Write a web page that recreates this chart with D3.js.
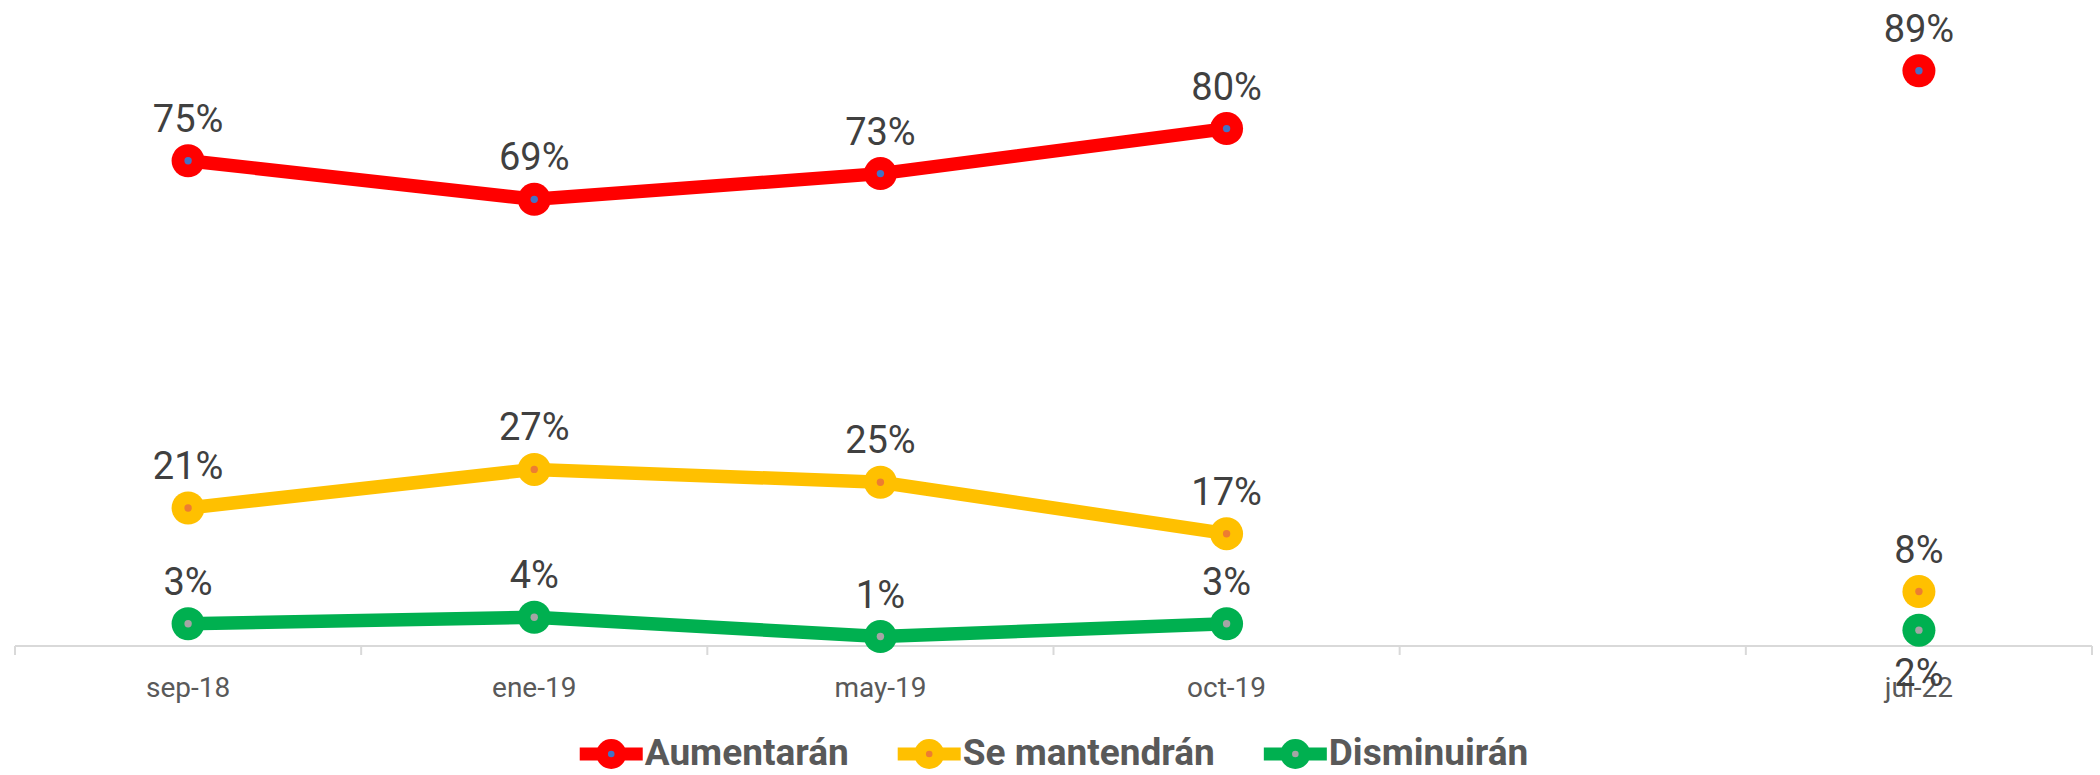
<!DOCTYPE html>
<html>
<head>
<meta charset="utf-8">
<script src="https://cdn.jsdelivr.net/npm/d3@7"></script>
<style>
  body { margin: 0; background: #fff; }
  svg { display: block; font-family: Roboto, "Liberation Sans", sans-serif; }
</style>
</head>
<body>
<svg id="vis" width="2100" height="775"></svg>
<script>
// x categories - the blank one is an empty slot between oct-19 and jul-22
var categories = ['sep-18', 'ene-19', 'may-19', 'oct-19', '', 'jul-22'];

var seriesNames = ['Aumentarán', 'Se mantendrán', 'Disminuirán'];
var aumentaran   = [0.75, 0.69, 0.73, 0.80, null, 0.89];
var seMantendran = [0.21, 0.27, 0.25, 0.17, null, 0.08];
var disminuiran  = [0.03, 0.04, 0.01, 0.03, null, 0.02];

var lineColors = ['#FF0000', '#FFC000', '#00B050'];
var dotColors = ['#4472C4', '#ED7D31', '#A5A5A5'];

var allValues = [aumentaran, seMantendran, disminuiran];

var svg = d3.select('#vis');

var x = d3.scaleBand().domain(categories).range([15, 2092]);
var y = d3.scaleLinear().domain([0, 1]).range([643, 0]);
var axisY = 646;

var cx = function (c) { return x(c) + x.bandwidth() / 2; };

// category axis
var axisG = svg.append('g')
    .attr('transform', 'translate(0,' + axisY + ')')
    .call(d3.axisBottom(x).tickSize(0).tickPadding(31));
axisG.select('.domain').remove();
axisG.selectAll('text')
    .attr('font-size', 28)
    .attr('font-family', 'Roboto, "Liberation Sans", sans-serif')
    .attr('fill', '#595959');

svg.append('line')
    .attr('x1', x.range()[0]).attr('x2', x.range()[1])
    .attr('y1', axisY).attr('y2', axisY)
    .attr('stroke', '#D9D9D9').attr('stroke-width', 2);

// tick marks sit between categories, like excel
var boundaries = categories.map(function (c) { return x(c); }).concat([x.range()[1]]);
svg.selectAll('.tickmark')
    .data(boundaries)
    .enter().append('line')
    .attr('class', 'tickmark')
    .attr('x1', function (d) { return d; }).attr('x2', function (d) { return d; })
    .attr('y1', axisY).attr('y2', axisY + 9)
    .attr('stroke', '#D9D9D9').attr('stroke-width', 2);

var line = d3.line()
    .defined(function (d) { return d.v !== null; })
    .x(function (d) { return cx(d.c); })
    .y(function (d) { return y(d.v); });

allValues.forEach(function (values, i) {
    var pts = categories.map(function (c, j) { return { c: c, v: values[j], name: seriesNames[i] }; });
    var g = svg.append('g');

    g.append('path')
        .datum(pts)
        .attr('d', line)
        .attr('fill', 'none')
        .attr('stroke', lineColors[i])
        .attr('stroke-width', 13.5)
        .attr('stroke-linejoin', 'round');

    var valid = pts.filter(function (d) { return d.v !== null; });

    g.selectAll('.marker')
        .data(valid)
        .enter().append('circle')
        .attr('cx', function (d) { return cx(d.c); })
        .attr('cy', function (d) { return y(d.v); })
        .attr('r', 16.5)
        .attr('fill', lineColors[i]);

    g.selectAll('.dot')
        .data(valid)
        .enter().append('circle')
        .attr('cx', function (d) { return cx(d.c); })
        .attr('cy', function (d) { return y(d.v); })
        .attr('r', 3.7)
        .attr('fill', dotColors[i]);

    // labels above the point, except the last green one which excel put below
    g.selectAll('.lbl')
        .data(valid)
        .enter().append('text')
        .attr('x', function (d) { return cx(d.c); })
        .attr('y', function (d) {
            var below = d.name === 'Disminuirán' && d.c === 'jul-22';
            return y(d.v) + (below ? 56 : -29);
        })
        .attr('text-anchor', 'middle')
        .attr('font-size', 38)
        .attr('fill', '#404040')
        .text(function (d) { return Math.round(d.v * 100) + '%'; });
});

// legend
var legend = svg.append('g');
var offset = 0;
seriesNames.forEach(function (name, i) {
    var item = legend.append('g').attr('transform', 'translate(' + offset + ',0)');
    item.append('line')
        .attr('x1', 0).attr('x2', 63)
        .attr('y1', 754).attr('y2', 754)
        .attr('stroke', lineColors[i]).attr('stroke-width', 13);
    item.append('circle').attr('cx', 31.5).attr('cy', 754).attr('r', 15).attr('fill', lineColors[i]);
    item.append('circle').attr('cx', 31.5).attr('cy', 754).attr('r', 3.3).attr('fill', dotColors[i]);
    var t = item.append('text')
        .attr('x', 65).attr('y', 765)
        .attr('font-size', 37)
        .attr('font-weight', 'bold')
        .attr('fill', '#595959')
        .text(name);
    offset += 65 + t.node().getComputedTextLength() + 49;
});
var total = offset - 49;
legend.attr('transform', 'translate(' + (1054 - total / 2) + ',0)');
</script>
</body>
</html>
